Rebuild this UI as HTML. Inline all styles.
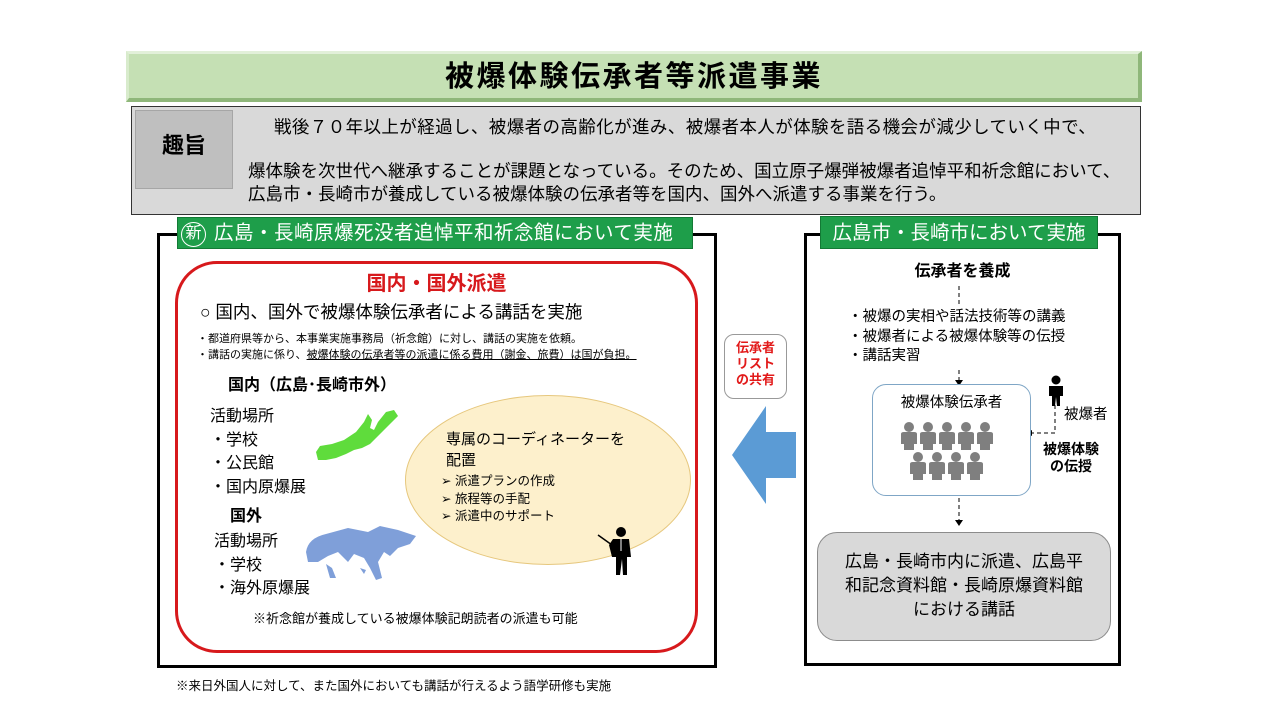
<!DOCTYPE html>
<html><head><meta charset="utf-8">
<style>
*{margin:0;padding:0;box-sizing:border-box}
body{width:1280px;height:720px;background:#fff;position:relative;overflow:hidden;font-family:"Liberation Sans","Noto Sans CJK JP",sans-serif;color:#000}
.a{position:absolute;white-space:nowrap}
</style></head><body>
<!-- title -->
<div class="a" style="left:126px;top:51px;width:1016px;height:51px;background:#c5e0b4;border-top:3px solid #e2f0d9;border-left:3px solid #d8ebcc;border-bottom:4px solid #8fb77a;border-right:4px solid #8fb77a;"></div>
<div class="a" style="left:126px;top:57px;width:1016px;text-align:center;font-size:29px;letter-spacing:2.5px;font-weight:bold;line-height:40px">被爆体験伝承者等派遣事業</div>
<!-- purpose -->
<div class="a" style="left:131px;top:106px;width:1010px;height:109px;background:#d9d9d9;border:1.5px solid #333"></div>
<div class="a" style="left:135px;top:110px;width:98px;height:79px;background:#bfbfbf;border:1px solid #a6a6a6"></div>
<div class="a" style="left:135px;top:131px;width:98px;text-align:center;font-size:22px;font-weight:bold;line-height:30px">趣旨</div>
<div class="a" style="left:274px;top:115px;font-size:17.5px;letter-spacing:0.4px;line-height:24px">戦後７０年以上が経過し、被爆者の高齢化が進み、被爆者本人が体験を語る機会が減少していく中で、</div>
<div class="a" style="left:248px;top:160px;font-size:17.5px;line-height:23px">爆体験を次世代へ継承することが課題となっている。そのため、国立原子爆弾被爆者追悼平和祈念館において、<br>広島市・長崎市が養成している被爆体験の伝承者等を国内、国外へ派遣する事業を行う。</div>

<!-- left panel -->
<div class="a" style="left:157px;top:233px;width:560px;height:435px;border:3px solid #000"></div>
<div class="a" style="left:177px;top:217px;width:516px;height:32px;background:#1e9e4a;border:1px solid #137a35"></div>
<div class="a" style="left:181px;top:219px;font-size:19.5px;line-height:28px;color:#fff"><span style="display:inline-block;width:25px;height:25px;border:1.5px solid #fff;border-radius:50%;text-align:center;font-size:16px;line-height:22px;vertical-align:1px;margin-right:8px">新</span><span style="letter-spacing:0.5px">広島・長崎原爆死没者追悼平和祈念館において実施</span></div>
<div class="a" style="left:175px;top:261px;width:523px;height:392px;border:3px solid #d7191c;border-radius:42px"></div>
<div class="a" style="left:175px;top:270px;width:523px;text-align:center;font-size:20px;font-weight:bold;color:#d7191c;line-height:28px">国内・国外派遣</div>
<div class="a" style="left:200px;top:299px;font-size:17.5px;line-height:26px">○ 国内、国外で被爆体験伝承者による講話を実施</div>
<div class="a" style="left:197px;top:331px;font-size:11px;line-height:16px">・都道府県等から、本事業実施事務局（祈念館）に対し、講話の実施を依頼。<br>・講話の実施に係り、<span style="text-decoration:underline">被爆体験の伝承者等の派遣に係る費用（謝金、旅費）は国が負担。</span></div>
<div class="a" style="left:228px;top:375px;font-size:16px;font-weight:bold;line-height:22px">国内（広島･長崎市外）</div>
<div class="a" style="left:210px;top:405px;font-size:16px;line-height:23.5px">活動場所<br>・学校<br>・公民館<br>・国内原爆展</div>
<div class="a" style="left:230px;top:506px;font-size:16px;font-weight:bold;line-height:22px">国外</div>
<div class="a" style="left:214px;top:530px;font-size:16px;line-height:23.5px">活動場所<br>・学校<br>・海外原爆展</div>
<svg class="a" style="left:312px;top:408px" width="90" height="60"><path d="M4 44 L8 38 L20 36 L32 32 L44 24 L52 14 L56 6 L60 12 L58 20 L62 22 L66 14 L74 4 L82 2 L86 8 L80 14 L72 22 L64 30 L58 36 L50 40 L42 42 L34 46 L24 50 L14 52 L6 52 Z" fill="#5fdc3c"/></svg>
<svg class="a" style="left:298px;top:522px" width="125" height="62"><path d="M8 30 Q10 16 28 12 L50 6 L70 10 L82 4 L100 8 L118 14 L112 22 L100 26 L92 34 L86 30 L80 40 L84 56 L78 58 L72 46 L66 36 L56 32 L50 40 L40 30 L30 34 L20 40 L10 40 Z M28 42 L34 46 L38 56 L32 56 Z M62 46 L68 48 L66 52 Z" fill="#7f9fd9"/></svg>
<div class="a" style="left:405px;top:395px;width:286px;height:170px;border-radius:50%;background:#fdf0cc;border:1.5px solid #e6c77d"></div>
<div class="a" style="left:446px;top:429px;font-size:15px;line-height:21px">専属のコーディネーターを<br>配置</div>
<div class="a" style="left:441px;top:473px;font-size:12.5px;line-height:17.5px">➢ 派遣プランの作成<br>➢ 旅程等の手配<br>➢ 派遣中のサポート</div>
<svg class="a" style="left:596px;top:525px" width="40" height="52"><line x1="2" y1="10" x2="16" y2="20" stroke="#000" stroke-width="1.5"/><circle cx="25" cy="7" r="5" fill="#000"/><path d="M17 14 L33 14 L35 32 L31 32 L31 50 L27 50 L26 34 L24 50 L20 50 L20 32 L16 32 L13 20 Z" fill="#000"/><line x1="25" y1="14" x2="25" y2="26" stroke="#fff" stroke-width="1"/></svg>
<div class="a" style="left:253px;top:610px;font-size:13px;line-height:18px">※祈念館が養成している被爆体験記朗読者の派遣も可能</div>

<!-- arrow -->
<div class="a" style="left:724px;top:334px;width:63px;height:65px;border:1px solid #999;border-radius:10px;background:#fff"></div>
<div class="a" style="left:724px;top:340px;width:63px;text-align:center;font-size:13px;font-weight:bold;color:#e21a1a;line-height:16px">伝承者<br>リスト<br>の共有</div>
<svg class="a" style="left:730px;top:404px" width="68" height="102"><path d="M2 51 L36 2 L36 28 L66 28 L66 74 L36 74 L36 100 Z" fill="#5b9bd5"/></svg>

<!-- right panel -->
<div class="a" style="left:804px;top:233px;width:317px;height:433px;border:3px solid #000"></div>
<div class="a" style="left:820px;top:216px;width:278px;height:33px;background:#1e9e4a;border:1px solid #137a35"></div>
<div class="a" style="left:820px;top:219px;width:278px;text-align:center;font-size:19.5px;line-height:28px;color:#fff">広島市・長崎市において実施</div>
<div class="a" style="left:804px;top:261px;width:317px;text-align:center;font-size:16px;font-weight:bold;line-height:22px">伝承者を養成</div>
<div class="a" style="left:848px;top:308px;font-size:14.5px;line-height:19.5px">・被爆の実相や話法技術等の講義<br>・被爆者による被爆体験等の伝授<br>・講話実習</div>
<svg class="a" style="left:800px;top:280px" width="330" height="250">
<g stroke="#000" stroke-width="1" stroke-dasharray="4,3" fill="none">
<line x1="159" y1="6" x2="159" y2="26"/><line x1="159" y1="90" x2="159" y2="100"/>
<line x1="255" y1="125" x2="255" y2="153"/><line x1="255" y1="153" x2="232" y2="153"/>
<line x1="159" y1="218" x2="159" y2="240"/></g>
<path d="M155 100 L163 100 L159 106 Z M232 150 L232 156 L226 153 Z M155 240 L163 240 L159 246 Z" fill="#000"/>
</svg>
<div class="a" style="left:872px;top:384px;width:159px;height:112px;border:1px solid #7fa6c6;border-radius:14px;background:#fff"></div>
<div class="a" style="left:872px;top:393px;width:159px;text-align:center;font-size:14.5px;line-height:20px">被爆体験伝承者</div>
<svg class="a" style="left:898px;top:420px" width="105" height="62">
<defs><g id="p"><circle cx="9" cy="5" r="5" fill="#7f7f7f"/><path d="M1 12 Q1 10 4 10 L14 10 Q17 10 17 12 L17 22 L14 22 L14 28 L4 28 L4 22 L1 22 Z" fill="#7f7f7f"/></g></defs>
<use href="#p" x="2" y="2"/><use href="#p" x="21" y="2"/><use href="#p" x="40" y="2"/><use href="#p" x="59" y="2"/><use href="#p" x="78" y="2"/>
<use href="#p" x="11" y="32"/><use href="#p" x="30" y="32"/><use href="#p" x="49" y="32"/><use href="#p" x="68" y="32"/>
</svg>
<svg class="a" style="left:1046px;top:375px" width="20" height="32"><circle cx="10" cy="5" r="4.5" fill="#000"/><path d="M3 11 L17 11 L17 21 L14 21 L14 31 L11 31 L10 22 L9 31 L6 31 L6 21 L3 21 Z" fill="#000"/></svg>
<div class="a" style="left:1064px;top:405px;font-size:14.5px;line-height:20px">被爆者</div>
<div class="a" style="left:1036px;top:441px;width:70px;text-align:center;font-size:14px;font-weight:bold;line-height:17px">被爆体験<br>の伝授</div>
<div class="a" style="left:817px;top:532px;width:294px;height:109px;background:#d9d9d9;border:1px solid #8c8c8c;border-radius:20px"></div>
<div class="a" style="left:817px;top:550px;width:294px;text-align:center;font-size:17px;line-height:24px">広島・長崎市内に派遣、広島平<br>和記念資料館・長崎原爆資料館<br>における講話</div>

<div class="a" style="left:176px;top:677px;font-size:12.5px;line-height:18px">※来日外国人に対して、また国外においても講話が行えるよう語学研修も実施</div>
</body></html>
